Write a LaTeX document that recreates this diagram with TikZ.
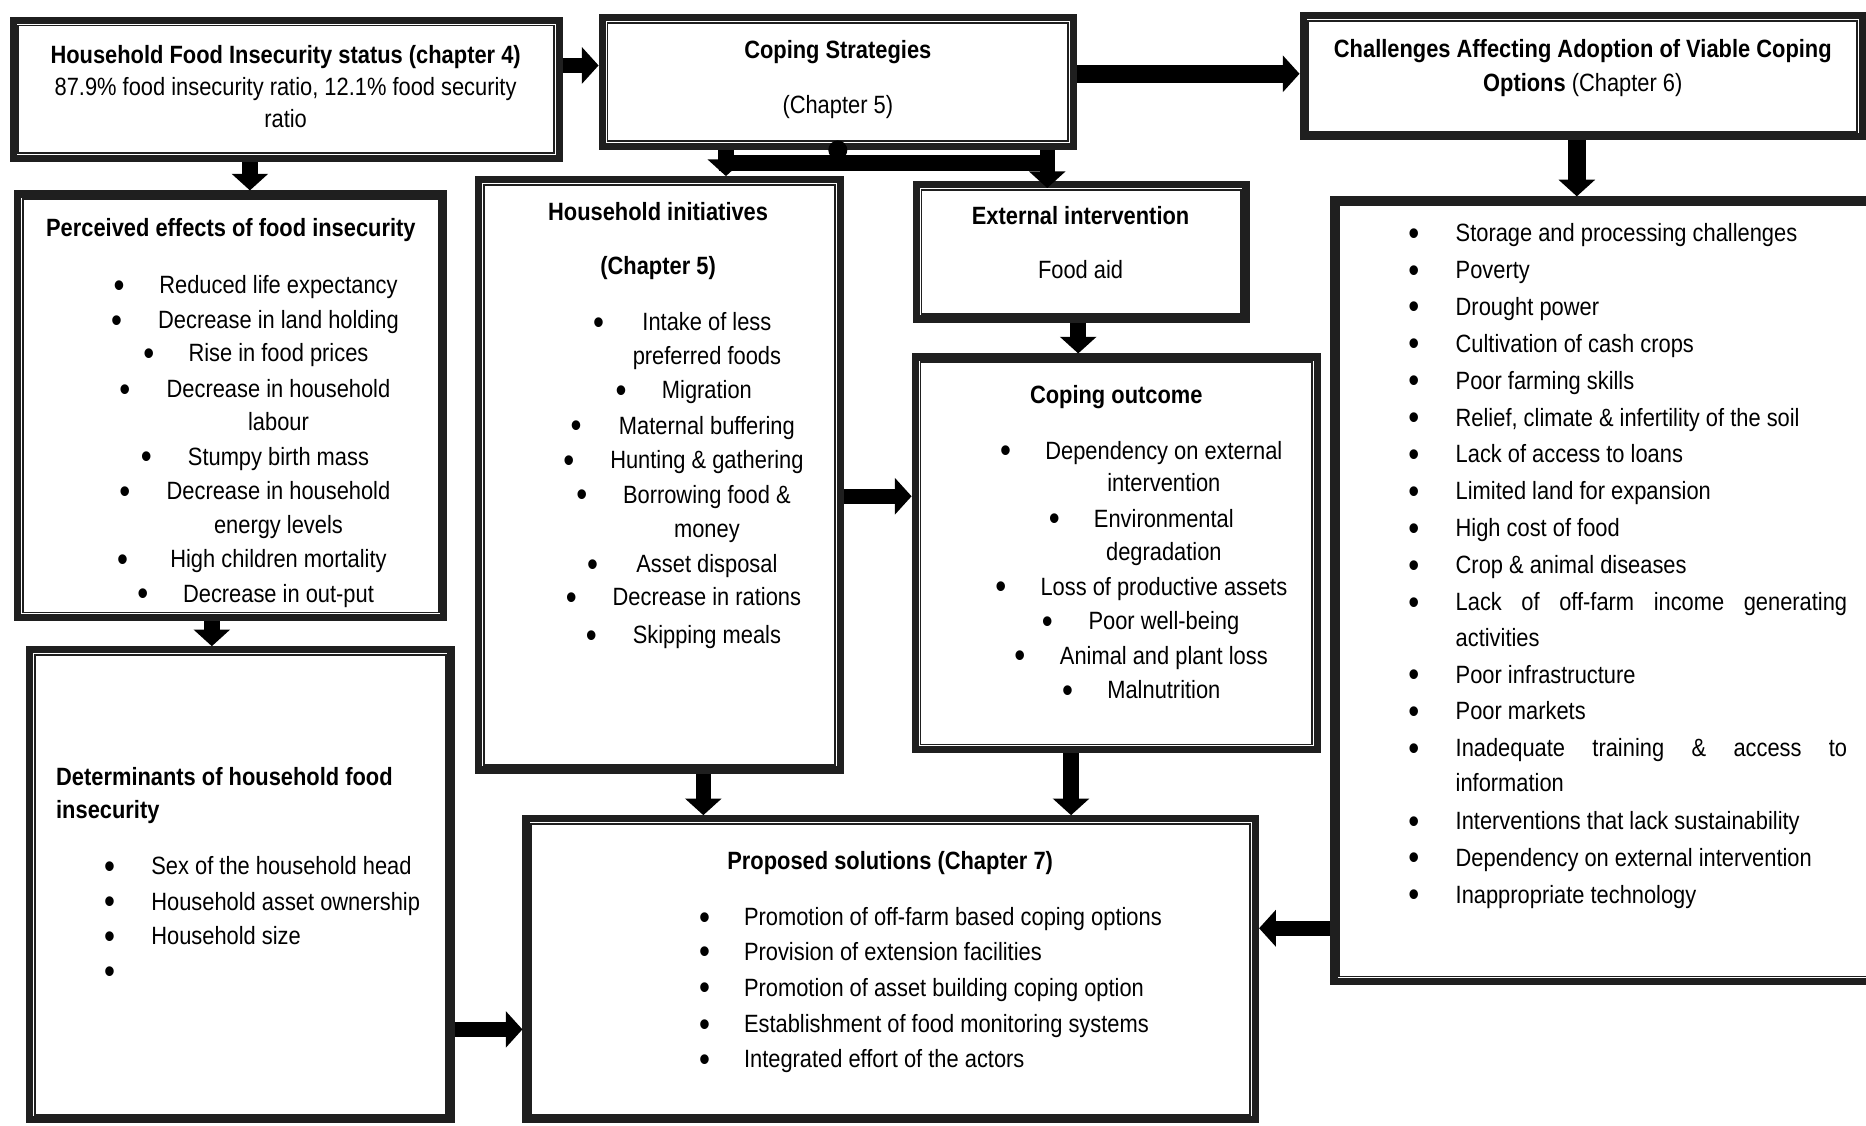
\documentclass[tikz,border=0pt]{standalone}
\usepackage{fontspec}
\setmainfont{Liberation Sans}[FakeStretch=0.875]
\usetikzlibrary{arrows.meta,calc}
\definecolor{frame}{HTML}{1F1F1F}

% framed box: thick outer rule plus a thin inner rule
% #1 name, #2 left, #3 top, #4 right, #5 bottom (outer edges)
\newcommand\dbox[5]{%
  \node[boxframe, minimum width={#4-#2-6}, minimum height={#5-#3-6}]
    (#1) at ({(#2+#4)/2},{(#3+#5)/2}) {};
  \draw[boxinner] ($(#1.north west)+(7.4,7.4)$) rectangle ($(#1.south east)+(-7.4,-7.4)$);
}

\begin{document}
\begin{tikzpicture}[x=1pt,y=-1pt,
  boxframe/.style={draw=frame, line width=6pt, rectangle, inner sep=0pt, fill=white},
  boxinner/.style={draw=frame, line width=1.5pt},
  conn/.style={draw=black, line width=13pt, -{Triangle[length=14pt,width=30pt]}},
  bigconn/.style={conn, line width=15pt},
  txt/.style={font=\fontsize{21}{29}\selectfont, inner sep=0pt, anchor=base, yshift=-7pt},
  ltxt/.style={txt, anchor=base west},
  hd/.style={txt, font=\fontsize{21}{29}\selectfont\bfseries},
  lhd/.style={hd, anchor=base west},
  bul/.style={font=\fontsize{30}{30}\selectfont, inner sep=0pt, anchor=center, yshift=-3pt},
]
\useasboundingbox (0,0) rectangle (1568,946);

% ---------- boxes ----------
\dbox{status}{8}{14}{473}{136}
\dbox{coping}{503}{12}{905}{126}
\dbox{chall}{1092}{10}{1568}{118}
\dbox{challist}{1118}{165}{1585}{828}
\dbox{effects}{12}{160}{376}{522}
\dbox{determ}{22}{543}{382}{944}
\dbox{initiat}{399}{148}{709}{650}
\dbox{extern}{767}{152}{1050}{271}
\dbox{outcome}{766}{297}{1110}{633}
\dbox{solut}{439}{685}{1058}{944}

% ---------- household food insecurity status ----------
\node[hd] (st1) at (240,46) {Household Food Insecurity status (chapter 4)};
\node[txt] (st2) at (240,73) {87.9\% food insecurity ratio, 12.1\% food security};
\node[txt] (st3) at (240,100) {ratio};

% ---------- coping strategies ----------
\node[hd] (cs1) at (704,42) {Coping Strategies};
\node[txt] (cs2) at (704,88) {(Chapter 5)};

% ---------- challenges ----------
\node[hd] (ch1) at (1330,41) {Challenges Affecting Adoption of Viable Coping};
\node[txt] (ch2) at (1330,70) {\textbf{Options} (Chapter 6)};

\node[bul] (cb1) at (1188,196) {•};  \node[ltxt] (ct1) at (1223,196) {Storage and processing challenges};
\node[bul] (cb2) at (1188,227) {•};  \node[ltxt] (ct2) at (1223,227) {Poverty};
\node[bul] (cb3) at (1188,258) {•};  \node[ltxt] (ct3) at (1223,258) {Drought power};
\node[bul] (cb4) at (1188,289) {•};  \node[ltxt] (ct4) at (1223,289) {Cultivation of cash crops};
\node[bul] (cb5) at (1188,320) {•};  \node[ltxt] (ct5) at (1223,320) {Poor farming skills};
\node[bul] (cb6) at (1188,351) {•};  \node[ltxt] (ct6) at (1223,351) {Relief, climate \& infertility of the soil};
\node[bul] (cb7) at (1188,382) {•};  \node[ltxt] (ct7) at (1223,382) {Lack of access to loans};
\node[bul] (cb8) at (1188,413) {•};  \node[ltxt] (ct8) at (1223,413) {Limited land for expansion};
\node[bul] (cb9) at (1188,444) {•};  \node[ltxt] (ct9) at (1223,444) {High cost of food};
\node[bul] (cb10) at (1188,475) {•}; \node[ltxt] (ct10) at (1223,475) {Crop \& animal diseases};
\node[bul] (cb11) at (1188,506) {•}; \node[ltxt] (ct11) at (1223,506) {\makebox[329pt][s]{Lack of off-farm income generating}};
\node[ltxt] (ct11b) at (1223,536) {activities};
\node[bul] (cb12) at (1188,567) {•}; \node[ltxt] (ct12) at (1223,567) {Poor infrastructure};
\node[bul] (cb13) at (1188,598) {•}; \node[ltxt] (ct13) at (1223,598) {Poor markets};
\node[bul] (cb14) at (1188,629) {•}; \node[ltxt] (ct14) at (1223,629) {\makebox[329pt][s]{Inadequate training \& access to}};
\node[ltxt] (ct14b) at (1223,658) {information};
\node[bul] (cb15) at (1188,690) {•}; \node[ltxt] (ct15) at (1223,690) {Interventions that lack sustainability};
\node[bul] (cb16) at (1188,721) {•}; \node[ltxt] (ct16) at (1223,721) {Dependency on external intervention};
\node[bul] (cb17) at (1188,752) {•}; \node[ltxt] (ct17) at (1223,752) {Inappropriate technology};

% ---------- perceived effects ----------
\node[hd] (pe0) at (194,192) {Perceived effects of food insecurity};
\node[bul] (pb1) at (100,240) {•}; \node[txt] (pe1) at (234,240) {Reduced life expectancy};
\node[bul] (pb2) at (98,269) {•};  \node[txt] (pe2) at (234,269) {Decrease in land holding};
\node[bul] (pb3) at (125,297) {•}; \node[txt] (pe3) at (234,297) {Rise in food prices};
\node[bul] (pb4) at (105,327) {•}; \node[txt] (pe4) at (234,327) {Decrease in household};
\node[txt] (pe4b) at (234,355) {labour};
\node[bul] (pb5) at (123,384) {•}; \node[txt] (pe5) at (234,384) {Stumpy birth mass};
\node[bul] (pb6) at (105,413) {•}; \node[txt] (pe6) at (234,413) {Decrease in household};
\node[txt] (pe6b) at (234,441) {energy levels};
\node[bul] (pb7) at (103,470) {•}; \node[txt] (pe7) at (234,470) {High children mortality};
\node[bul] (pb8) at (120,499) {•}; \node[txt] (pe8) at (234,499) {Decrease in out-put};

% ---------- determinants ----------
\node[lhd] (de0) at (47,653) {Determinants of household food};
\node[lhd] (de0b) at (47,681) {insecurity};
\node[bul] (db1) at (92,728) {•}; \node[ltxt] (de1) at (127,728) {Sex of the household head};
\node[bul] (db2) at (92,758) {•}; \node[ltxt] (de2) at (127,758) {Household asset ownership};
\node[bul] (db3) at (92,787) {•}; \node[ltxt] (de3) at (127,787) {Household size};
\node[bul] (db4) at (92,816) {•};

% ---------- household initiatives ----------
\node[hd] (hi0) at (553,178) {Household initiatives};
\node[hd] (hi0b) at (553,224) {(Chapter 5)};
\node[bul] (hb1) at (503,271) {•}; \node[txt] (hi1) at (594,271) {Intake of less};
\node[txt] (hi1b) at (594,299) {preferred foods};
\node[bul] (hb2) at (522,328) {•}; \node[txt] (hi2) at (594,328) {Migration};
\node[bul] (hb3) at (484,358) {•}; \node[txt] (hi3) at (594,358) {Maternal buffering};
\node[bul] (hb4) at (478,387) {•}; \node[txt] (hi4) at (594,387) {Hunting \& gathering};
\node[bul] (hb5) at (489,416) {•}; \node[txt] (hi5) at (594,416) {Borrowing food \&};
\node[txt] (hi5b) at (594,445) {money};
\node[bul] (hb6) at (498,474) {•}; \node[txt] (hi6) at (594,474) {Asset disposal};
\node[bul] (hb7) at (480,502) {•}; \node[txt] (hi7) at (594,502) {Decrease in rations};
\node[bul] (hb8) at (497,534) {•}; \node[txt] (hi8) at (594,534) {Skipping meals};

% ---------- external intervention ----------
\node[hd] (ex0) at (908,182) {External intervention};
\node[txt] (ex1) at (908,227) {Food aid};

% ---------- coping outcome ----------
\node[hd] (co0) at (938,332) {Coping outcome};
\node[bul] (ob1) at (845,379) {•}; \node[txt] (co1) at (978,379) {Dependency on external};
\node[txt] (co1b) at (978,406) {intervention};
\node[bul] (ob2) at (886,436) {•}; \node[txt] (co2) at (978,436) {Environmental};
\node[txt] (co2b) at (978,464) {degradation};
\node[bul] (ob3) at (841,493) {•}; \node[txt] (co3) at (978,493) {Loss of productive assets};
\node[bul] (ob4) at (880,522) {•}; \node[txt] (co4) at (978,522) {Poor well-being};
\node[bul] (ob5) at (857,551) {•}; \node[txt] (co5) at (978,551) {Animal and plant loss};
\node[bul] (ob6) at (897,580) {•}; \node[txt] (co6) at (978,580) {Malnutrition};

% ---------- proposed solutions ----------
\node[hd] (so0) at (748,724) {Proposed solutions (Chapter 7)};
\node[bul] (sb1) at (592,771) {•}; \node[ltxt] (so1) at (625,771) {Promotion of off-farm based coping options};
\node[bul] (sb2) at (592,800) {•}; \node[ltxt] (so2) at (625,800) {Provision of extension facilities};
\node[bul] (sb3) at (592,830) {•}; \node[ltxt] (so3) at (625,830) {Promotion of asset building coping option};
\node[bul] (sb4) at (592,861) {•}; \node[ltxt] (so4) at (625,861) {Establishment of food monitoring systems};
\node[bul] (sb5) at (592,890) {•}; \node[ltxt] (so5) at (625,890) {Integrated effort of the actors};

% ---------- connectors ----------
\draw[conn] (status.east |- 0,55) -- (coping.west |- 0,55);
\draw[bigconn] (coping.east |- 0,62) -- (chall.west |- 0,62);
\draw[bigconn] (chall.south -| 1325,0) -- (challist.north -| 1325,0);
\draw[conn] (status.south -| 210,0) -- (effects.north -| 210,0);
\draw[conn] (effects.south -| 178,0) -- (determ.north -| 178,0);
\draw[conn] (determ.east |- 0,865) -- (solut.west |- 0,865);

% fork from coping strategies to the two branches below
\coordinate (forkL) at (604,137);
\coordinate (forkR) at (886,137);
\draw[line width=14pt] (forkL) -- (forkR);
\fill (coping.south -| 704,0) circle (8);
\draw[conn] (coping.south -| 610,0) -- (initiat.north -| 610,0);
\draw[conn] (coping.south -| 880,0) -- ([yshift=-6pt]extern.north -| 880,0);

\draw[conn] (extern.south -| 906,0) -- (outcome.north -| 906,0);
\draw[conn] (initiat.east |- 0,417) -- (outcome.west |- 0,417);
\draw[conn] (initiat.south -| 591,0) -- (solut.north -| 591,0);
\draw[conn] (outcome.south -| 900,0) -- (solut.north -| 900,0);
\draw[conn] (challist.west |- 0,780) -- (solut.east |- 0,780);
\end{tikzpicture}
\end{document}
